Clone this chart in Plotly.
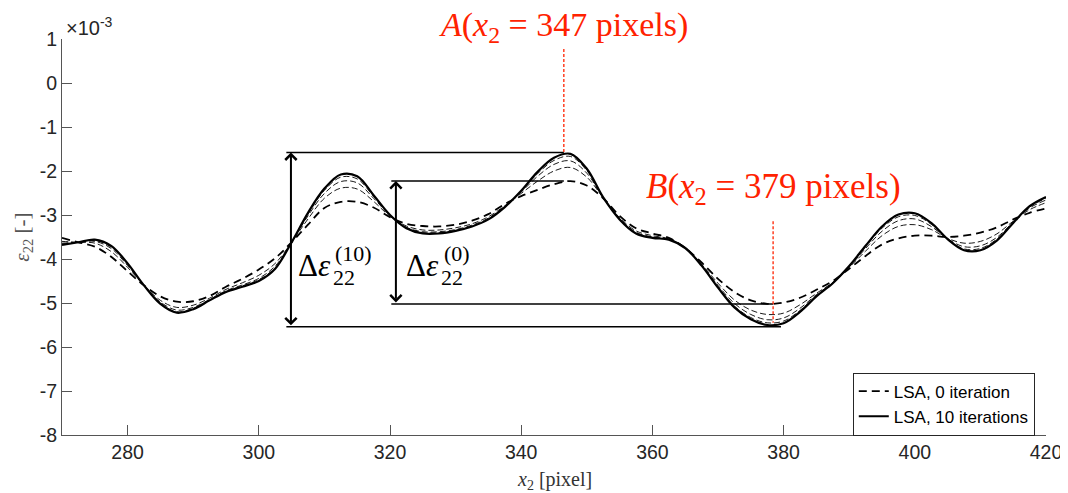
import plotly.graph_objects as go

# ---------------- data (strain values in units of 1e-3) ----------------
x2_pixel = [270, 272.5, 275, 277.5, 280, 282.5, 285, 287.5, 290, 292.5,
            295, 297.5, 300, 302.5, 305, 307.5, 310, 312.5, 315, 317.5,
            320, 322.5, 325, 327.5, 330, 332.5, 335, 337.5, 340, 342.5,
            345, 347.5, 350, 352.5, 355, 357.5, 360, 362.5, 365, 367.5,
            370, 372.5, 375, 377.5, 380, 382.5, 385, 387.5, 390, 392.5,
            395, 397.5, 400, 402.5, 405, 407.5, 410, 412.5, 415, 417.5, 420]

# LSA, 0 iteration (thick dashed)
eps22_iter0 = [-3.52, -3.62, -3.72, -3.95, -4.28, -4.60, -4.85, -4.97, -4.96, -4.84,
               -4.63, -4.45, -4.24, -3.98, -3.62, -3.22, -2.84, -2.70, -2.70, -2.83,
               -3.05, -3.20, -3.25, -3.26, -3.22, -3.13, -2.98, -2.75, -2.57, -2.43,
               -2.30, -2.23, -2.33, -2.62, -3.02, -3.30, -3.42, -3.52, -3.75, -4.08,
               -4.45, -4.75, -4.94, -5.02, -4.99, -4.88, -4.70, -4.50, -4.22, -3.93,
               -3.67, -3.53, -3.47, -3.47, -3.50, -3.47, -3.40, -3.28, -3.10, -2.95, -2.85]

# intermediate iterations (thin dashed)
eps22_iter1 = [-3.60, -3.62, -3.64, -3.83, -4.19, -4.60, -4.94, -5.10, -5.05, -4.89,
               -4.69, -4.54, -4.37, -4.10, -3.62, -3.09, -2.62, -2.39, -2.41, -2.69,
               -3.03, -3.25, -3.34, -3.34, -3.29, -3.20, -3.04, -2.79, -2.51, -2.23,
               -2.00, -1.92, -2.14, -2.61, -3.06, -3.36, -3.47, -3.54, -3.75, -4.12,
               -4.55, -4.93, -5.16, -5.26, -5.23, -5.04, -4.78, -4.53, -4.19, -3.82,
               -3.47, -3.26, -3.22, -3.33, -3.53, -3.64, -3.60, -3.43, -3.14, -2.88, -2.72]

eps22_iter2 = [-3.64, -3.62, -3.60, -3.76, -4.15, -4.60, -4.98, -5.16, -5.10, -4.92,
               -4.72, -4.59, -4.44, -4.16, -3.62, -3.02, -2.51, -2.24, -2.27, -2.62,
               -3.01, -3.28, -3.38, -3.38, -3.33, -3.23, -3.07, -2.80, -2.48, -2.12,
               -1.85, -1.77, -2.05, -2.61, -3.08, -3.39, -3.50, -3.55, -3.75, -4.13,
               -4.60, -5.01, -5.26, -5.38, -5.34, -5.12, -4.81, -4.54, -4.18, -3.76,
               -3.37, -3.13, -3.09, -3.26, -3.54, -3.72, -3.70, -3.51, -3.16, -2.84, -2.66]

eps22_iter3 = [-3.66, -3.62, -3.58, -3.73, -4.12, -4.60, -5.00, -5.20, -5.12, -4.93,
               -4.74, -4.61, -4.47, -4.20, -3.62, -2.98, -2.44, -2.14, -2.18, -2.58,
               -3.00, -3.29, -3.40, -3.40, -3.35, -3.25, -3.09, -2.81, -2.46, -2.06,
               -1.76, -1.67, -1.99, -2.61, -3.09, -3.41, -3.51, -3.56, -3.75, -4.14,
               -4.63, -5.07, -5.33, -5.45, -5.41, -5.17, -4.84, -4.55, -4.17, -3.72,
               -3.30, -3.04, -3.01, -3.21, -3.55, -3.77, -3.76, -3.55, -3.17, -2.82, -2.62]

# LSA, 10 iterations (thick solid)
eps22_iter10 = [-3.68, -3.62, -3.56, -3.70, -4.10, -4.60, -5.02, -5.22, -5.14, -4.94,
                -4.75, -4.63, -4.50, -4.22, -3.62, -2.95, -2.40, -2.08, -2.12, -2.55,
                -3.00, -3.30, -3.42, -3.42, -3.36, -3.26, -3.10, -2.82, -2.45, -2.02,
                -1.70, -1.61, -1.95, -2.60, -3.10, -3.42, -3.52, -3.56, -3.75, -4.15,
                -4.65, -5.10, -5.37, -5.50, -5.46, -5.20, -4.85, -4.55, -4.16, -3.70,
                -3.26, -2.99, -2.96, -3.18, -3.55, -3.80, -3.80, -3.58, -3.18, -2.80, -2.59]

x_ticks = [280, 300, 320, 340, 360, 380, 400, 420]
y_ticks = [1, 0, -1, -2, -3, -4, -5, -6, -7, -8]

# annotation geometry (data units)
point_A = 346.5
point_B = 378.4
top10, bot10 = -1.58, -5.54
top0, bot0 = -2.23, -5.02

SERIF = "Liberation Serif"
SANS = "Liberation Sans"
AXC = "#262626"
RED = "#ff2200"

fig = go.Figure()

fig.add_trace(go.Scatter(x=x2_pixel, y=eps22_iter0, mode="lines", name="LSA, 0 iteration",
                         line=dict(color="black", width=1.8, dash="8px,5px", shape="spline", smoothing=1)))
for ys in (eps22_iter1, eps22_iter2, eps22_iter3):
    fig.add_trace(go.Scatter(x=x2_pixel, y=ys, mode="lines", showlegend=False, hoverinfo="skip",
                             line=dict(color="black", width=0.9, dash="6px,3px", shape="spline", smoothing=1)))
fig.add_trace(go.Scatter(x=x2_pixel, y=eps22_iter10, mode="lines", name="LSA, 10 iterations",
                         line=dict(color="black", width=2.2, shape="spline", smoothing=1)))

# horizontal reference lines
for (xa, xb, yy) in [(304.2, point_A, top10), (304.2, 379.6, bot10),
                     (320.2, point_A, top0), (320.2, point_B, bot0)]:
    fig.add_shape(type="line", x0=xa, x1=xb, y0=yy, y1=yy, xref="x", yref="y",
                  line=dict(color="black", width=1.5))

# red dashed markers
fig.add_shape(type="line", x0=point_A, x1=point_A, y0=0.77, y1=-1.6, xref="x", yref="y",
              line=dict(color=RED, width=1.3, dash="3px,2px"))
fig.add_shape(type="line", x0=point_B, x1=point_B, y0=-3.14, y1=-5.45, xref="x", yref="y",
              line=dict(color=RED, width=1.3, dash="3px,2px"))

# double-headed arrows
for xa, yt, yb in [(304.9, top10, bot10), (320.9, top0, bot0)]:
    fig.add_annotation(x=xa, y=yt, ax=xa, ay=yb, xref="x", yref="y", axref="x", ayref="y",
                       text="", showarrow=True, arrowhead=4, startarrowhead=4,
                       arrowside="end+start", arrowwidth=2, arrowsize=1.1,
                       arrowcolor="black", standoff=0, startstandoff=0)

# delta-epsilon labels
def delta_label(x_main, x_sub, x_sup, sup_text):
    fig.add_annotation(x=x_main, y=-4.14, xref="x", yref="y", xanchor="left", yanchor="middle",
                       text="Δ<i>ε</i>", showarrow=False,
                       font=dict(family=SERIF, size=31, color="black"))
    fig.add_annotation(x=x_sub, y=-4.42, xref="x", yref="y", xanchor="left", yanchor="middle",
                       text="22", showarrow=False, font=dict(family=SERIF, size=22, color="black"))
    fig.add_annotation(x=x_sup, y=-3.88, xref="x", yref="y", xanchor="left", yanchor="middle",
                       text=sup_text, showarrow=False, font=dict(family=SERIF, size=22, color="black"))

delta_label(305.6, 311.0, 311.3, "(10)")
delta_label(322.2, 327.5, 328.0, "(0)")

# red labels
fig.add_annotation(x=point_A, y=1.031, xref="x", yref="paper", xanchor="center", yanchor="middle",
                   text="<i>A</i>(<i>x</i><sub>2</sub> = 347 pixels)", showarrow=False,
                   font=dict(family=SERIF, size=34, color=RED))
fig.add_annotation(x=point_B, y=-2.39, xref="x", yref="y", xanchor="center", yanchor="middle",
                   text="<i>B</i>(<i>x</i><sub>2</sub> = 379 pixels)", showarrow=False,
                   font=dict(family=SERIF, size=35, color=RED))

# exponent and axis titles
fig.add_annotation(x=0.002, y=0.995, xref="paper", yref="paper", xanchor="left", yanchor="bottom",
                   text="×10<sup>-3</sup>", showarrow=False,
                   font=dict(family=SANS, size=20, color=AXC))
fig.add_annotation(x=0.5, y=-0.114, xref="paper", yref="paper", xanchor="center", yanchor="middle",
                   text="<i>x</i><sub>2</sub> [pixel]", showarrow=False,
                   font=dict(family=SERIF, size=20, color="#333333"))
fig.add_annotation(x=-0.04, y=0.5, xref="paper", yref="paper", xanchor="center", yanchor="middle",
                   text="<i>ε</i><sub>22</sub> [-]", textangle=-90, showarrow=False,
                   font=dict(family=SERIF, size=21, color="#555555"))

# the page body adds an 8px offset, so the figure is sized/margined to compensate
fig.update_layout(
    width=1060, height=485,
    margin=dict(l=54, r=22, t=31, b=58),
    paper_bgcolor="white", plot_bgcolor="white",
    showlegend=True,
    legend=dict(x=0.9886, xanchor="right", y=0.078, yanchor="middle",
                bordercolor=AXC, borderwidth=1, bgcolor="white",
                font=dict(family=SANS, size=17, color="black"),
                itemwidth=30, tracegroupgap=0),
    xaxis=dict(range=[270, 420], tickvals=x_ticks, ticktext=[str(v) for v in x_ticks],
               automargin=False,
               showgrid=False, zeroline=False, showline=True, linecolor="#555555", linewidth=1,
               ticks="inside", ticklen=10, tickcolor="#555555",
               tickfont=dict(family=SANS, size=19.5, color=AXC)),
    yaxis=dict(range=[-8, 1], tickvals=y_ticks, ticktext=[str(v) for v in y_ticks],
               automargin=False,
               showgrid=False, zeroline=False, showline=True, linecolor="#555555", linewidth=1,
               ticks="inside", ticklen=10, tickcolor="#555555",
               tickfont=dict(family=SANS, size=19.5, color=AXC)),
)

fig.write_html("out.html")
